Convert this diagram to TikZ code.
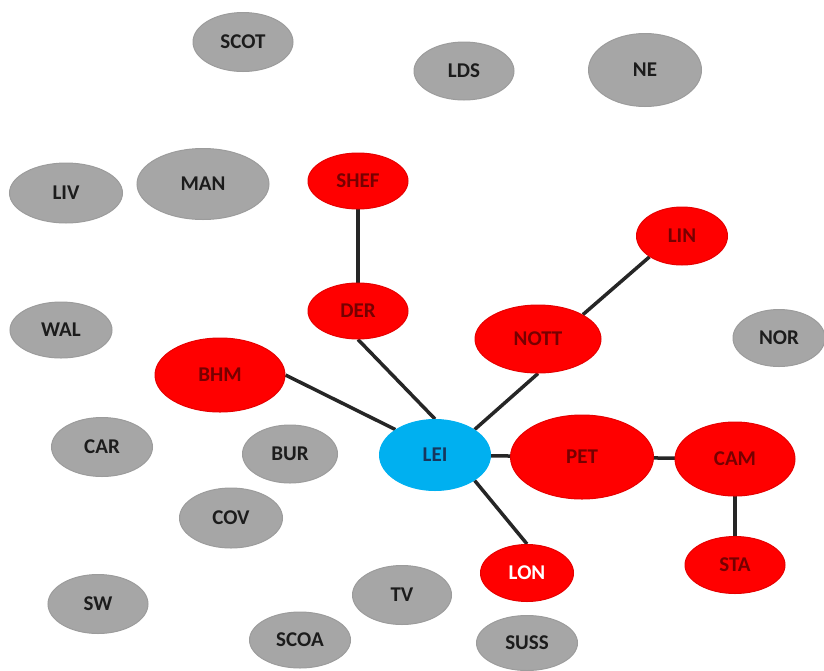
\documentclass[tikz,border=0pt]{standalone}
\usepackage{fontspec}
\setmainfont{Carlito}
\usetikzlibrary{shapes.geometric}
\pgfdeclarelayer{bg}
\pgfsetlayers{bg,main}
\definecolor{grayfill}{HTML}{A6A6A6}
\definecolor{grayline}{HTML}{9C9C9C}
\definecolor{grayText}{HTML}{1C1C1C}
\definecolor{redfill}{HTML}{FF0000}
\definecolor{redline}{HTML}{E60000}
\definecolor{redText}{HTML}{760000}
\definecolor{bluefill}{HTML}{00B0F0}
\definecolor{blueText}{HTML}{17375E}
\definecolor{edgecol}{HTML}{262626}
\tikzset{
  city/.style n args={2}{ellipse, inner sep=0pt, minimum width=#1pt, minimum height=#2pt,
    font=\bfseries\fontsize{21}{21}\selectfont, line width=1pt},
  other/.style={fill=grayfill, draw=grayline, text=grayText},
  linked/.style={fill=redfill, draw=redline, text=redText},
  hub/.style={fill=bluefill, draw=bluefill, text=blueText},
  link/.style={draw=edgecol, line width=3.5pt}
}
\begin{document}
\begin{tikzpicture}[x=1pt,y=-1pt]
\useasboundingbox (0,0) rectangle (824,670);
% grey nodes
\node[city={100}{59},other] (SCOT) at (243,42) {SCOT};
\node[city={100}{58},other] (LDS) at (464,71) {LDS};
\node[city={113}{73},other] (NE) at (645,70) {NE};
\node[city={113}{60},other] (LIV) at (66,193) {LIV};
\node[city={132}{71},other] (MAN) at (203,184) {MAN};
\node[city={102}{56},other] (WAL) at (61,330) {WAL};
\node[city={92}{57},other] (NOR) at (779,338) {NOR};
\node[city={101}{59},other] (CAR) at (102,447) {CAR};
\node[city={95}{58},other] (BUR) at (290,454) {BUR};
\node[city={103}{60},other] (COV) at (231,518) {COV};
\node[city={99}{59},other] (TV) at (402,595) {TV};
\node[city={100}{59},other] (SW) at (98,604) {SW};
\node[city={101}{56},other] (SCOA) at (300,640) {SCOA};
\node[city={101}{55},other] (SUSS) at (527,643) {SUSS};
% red nodes
\node[city={100}{56},linked] (SHEF) at (358,181) {SHEF};
\node[city={91}{58},linked] (LIN) at (682,236) {LIN};
\node[city={100}{56},linked] (DER) at (358,311) {DER};
\node[city={126}{68},linked] (NOTT) at (538,339) {NOTT};
\node[city={130}{74},linked] (BHM) at (220,375) {BHM};
\node[city={143}{84},linked] (PET) at (582,457) {PET};
\node[city={120}{74},linked] (CAM) at (735,459) {CAM};
\node[city={93}{57},linked,text=white] (LON) at (527,573) {LON};
\node[city={100}{57},linked] (STA) at (735,565) {STA};
% hub
\node[city={111}{71},hub] (LEI) at (435,455) {LEI};
% connectors
\begin{pgfonlayer}{bg}
\draw[link] (SHEF.center) -- (DER.center);
\draw[link] (DER.south) -- (LEI.north);
\draw[link] (BHM.east) -- (LEI.north west);
\draw[link] (NOTT.south) -- (LEI.north east);
\draw[link] (NOTT.north east) -- (LIN.south west);
\draw[link] (LEI.center) -- (PET.center);
\draw[link] (PET.center) -- (CAM.center);
\draw[link] (CAM.center) -- (STA.center);
\draw[link] (LEI.south east) -- (LON.north);
\end{pgfonlayer}
\end{tikzpicture}
\end{document}
